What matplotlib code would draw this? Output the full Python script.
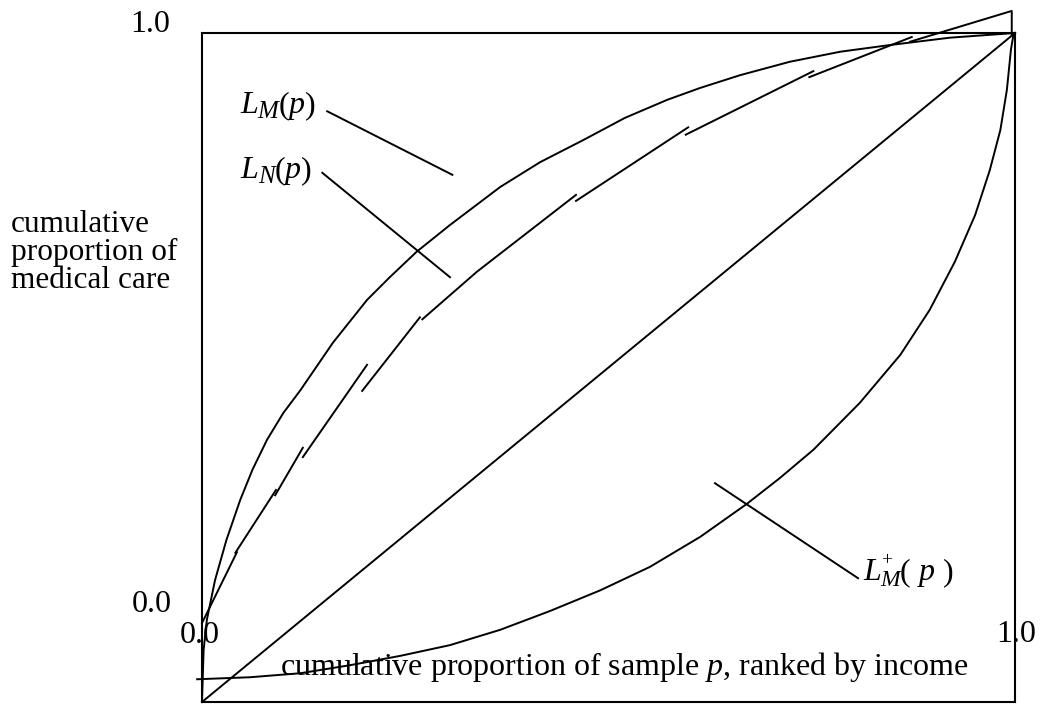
import numpy as np
import matplotlib
matplotlib.use("Agg")
import matplotlib.pyplot as plt
from matplotlib.transforms import IdentityTransform

plt.rcParams['font.family'] = ['Liberation Serif', 'DejaVu Serif']
plt.rcParams['mathtext.fontset'] = 'custom'
plt.rcParams['mathtext.rm'] = 'Liberation Serif'
plt.rcParams['mathtext.it'] = 'Liberation Serif:italic'

# concentration curve L_M(p)
lm_p = [0.0, 0.001, 0.002, 0.006, 0.016, 0.030, 0.047, 0.062, 0.080, 0.100, 0.121,
        0.161, 0.203, 0.231, 0.264, 0.305, 0.367, 0.416, 0.469, 0.520, 0.572,
        0.613, 0.662, 0.723, 0.785, 0.846, 0.920, 1.0]
lm_v = [0.0, 0.040, 0.078, 0.123, 0.182, 0.242, 0.302, 0.347, 0.392, 0.432, 0.466,
        0.537, 0.601, 0.635, 0.673, 0.713, 0.770, 0.807, 0.840, 0.873, 0.900,
        0.918, 0.937, 0.957, 0.972, 0.982, 0.993, 1.0]

# L_M^+(p)
lmp_p = [-0.006, 0.059, 0.121, 0.182, 0.244, 0.305, 0.367, 0.428, 0.490, 0.551,
         0.613, 0.670, 0.711, 0.752, 0.809, 0.859, 0.895, 0.926, 0.951, 0.969,
         0.982, 0.990, 0.995, 0.998, 1.0]
lmp_v = [0.034, 0.037, 0.043, 0.055, 0.069, 0.085, 0.108, 0.136, 0.167, 0.202,
         0.247, 0.296, 0.335, 0.377, 0.447, 0.519, 0.586, 0.658, 0.728, 0.795,
         0.855, 0.915, 0.975, 0.997, 1.0]

# L_N(p): drawn as short pieces with small jumps between them
ln_pieces_p = [
    [0.0, 0.043],
    [0.041, 0.091],
    [0.090, 0.124],
    [0.124, 0.203],
    [0.197, 0.268],
    [0.271, 0.338, 0.460],
    [0.460, 0.598],
    [0.595, 0.752],
    [0.747, 0.873],
    [0.871, 0.996, 0.996],
]
ln_pieces_v = [
    [0.118, 0.224],
    [0.223, 0.317],
    [0.309, 0.380],
    [0.366, 0.504],
    [0.465, 0.575],
    [0.572, 0.643, 0.758],
    [0.749, 0.859],
    [0.848, 0.943],
    [0.934, 0.994],
    [0.987, 1.033, 0.997],
]

W, H = 1041, 704
fig = plt.figure(figsize=(W / 100, H / 100), dpi=100)
ax = fig.add_axes([202 / W, 2 / H, (1015 - 202) / W, (702 - 33) / H])
ax.set_xlim(0, 1)
ax.set_ylim(0, 1)
ax.set_xticks([])
ax.set_yticks([])
for s in ax.spines.values():
    s.set_linewidth(1.5)

lw = 1.4
ax.plot([0, 1], [0, 1], color='black', lw=lw, clip_on=False)
ax.plot(lm_p, lm_v, color='black', lw=lw, clip_on=False)
ax.plot(lmp_p, lmp_v, color='black', lw=lw, clip_on=False)
for xs, ys in zip(ln_pieces_p, ln_pieces_v):
    ax.plot(xs, ys, color='black', lw=lw, clip_on=False)

# pointer lines for labels
ax.plot([0.154, 0.308], [0.883, 0.788], color='black', lw=lw)
ax.plot([0.148, 0.305], [0.791, 0.635], color='black', lw=lw)
ax.plot([0.631, 0.807], [0.327, 0.185], color='black', lw=lw)

ident = IdentityTransform()
renderer = fig.canvas.get_renderer()


def put(x, base, s, size, **kw):
    # x, base in image pixels (origin top left)
    return fig.text(x, H - base, s, fontsize=size, transform=ident,
                    va='baseline', **kw)


def put_pieces(x, base, pieces):
    for s, size, dy, style, advance in pieces:
        t = put(x, base + dy, s, size, style=style, ha='left')
        if advance:
            x = t.get_window_extent(renderer).x1


fs = 23
sub = 18
put_pieces(240, 113, [('L', fs, 0, 'italic', True), ('M', sub, 5, 'italic', True),
                      ('(', fs, 0, 'normal', True), ('p', fs, 0, 'italic', True),
                      (')', fs, 0, 'normal', True)])
put_pieces(240, 178, [('L', fs, 0, 'italic', True), ('N', sub, 5, 'italic', True),
                      ('(', fs, 0, 'normal', True), ('p', fs, 0, 'italic', True),
                      (')', fs, 0, 'normal', True)])
put_pieces(863, 580, [('L', fs, 0, 'italic', True), ('+', 14, -15, 'normal', False),
                      ('M', 17, 6, 'italic', True), ('( ', fs, 0, 'normal', True),
                      ('p', fs, 0, 'italic', True), (' )', fs, 0, 'normal', True)])

put(150, 32, '1.0', fs, ha='center')
put(152, 612, '0.0', fs, ha='center')
put(200, 643, '0.0', fs, ha='center')
put(1016, 642, '1.0', fs, ha='center')

put(624, 675, r'cumulative proportion of sample $p$, ranked by income', fs, ha='center')
ylab = ['cumulative', 'proportion of', 'medical care']
for i, line in enumerate(ylab):
    put(11, 232 + 28 * i, line, 22.5, ha='left')

fig.savefig('out.png', dpi=100)
